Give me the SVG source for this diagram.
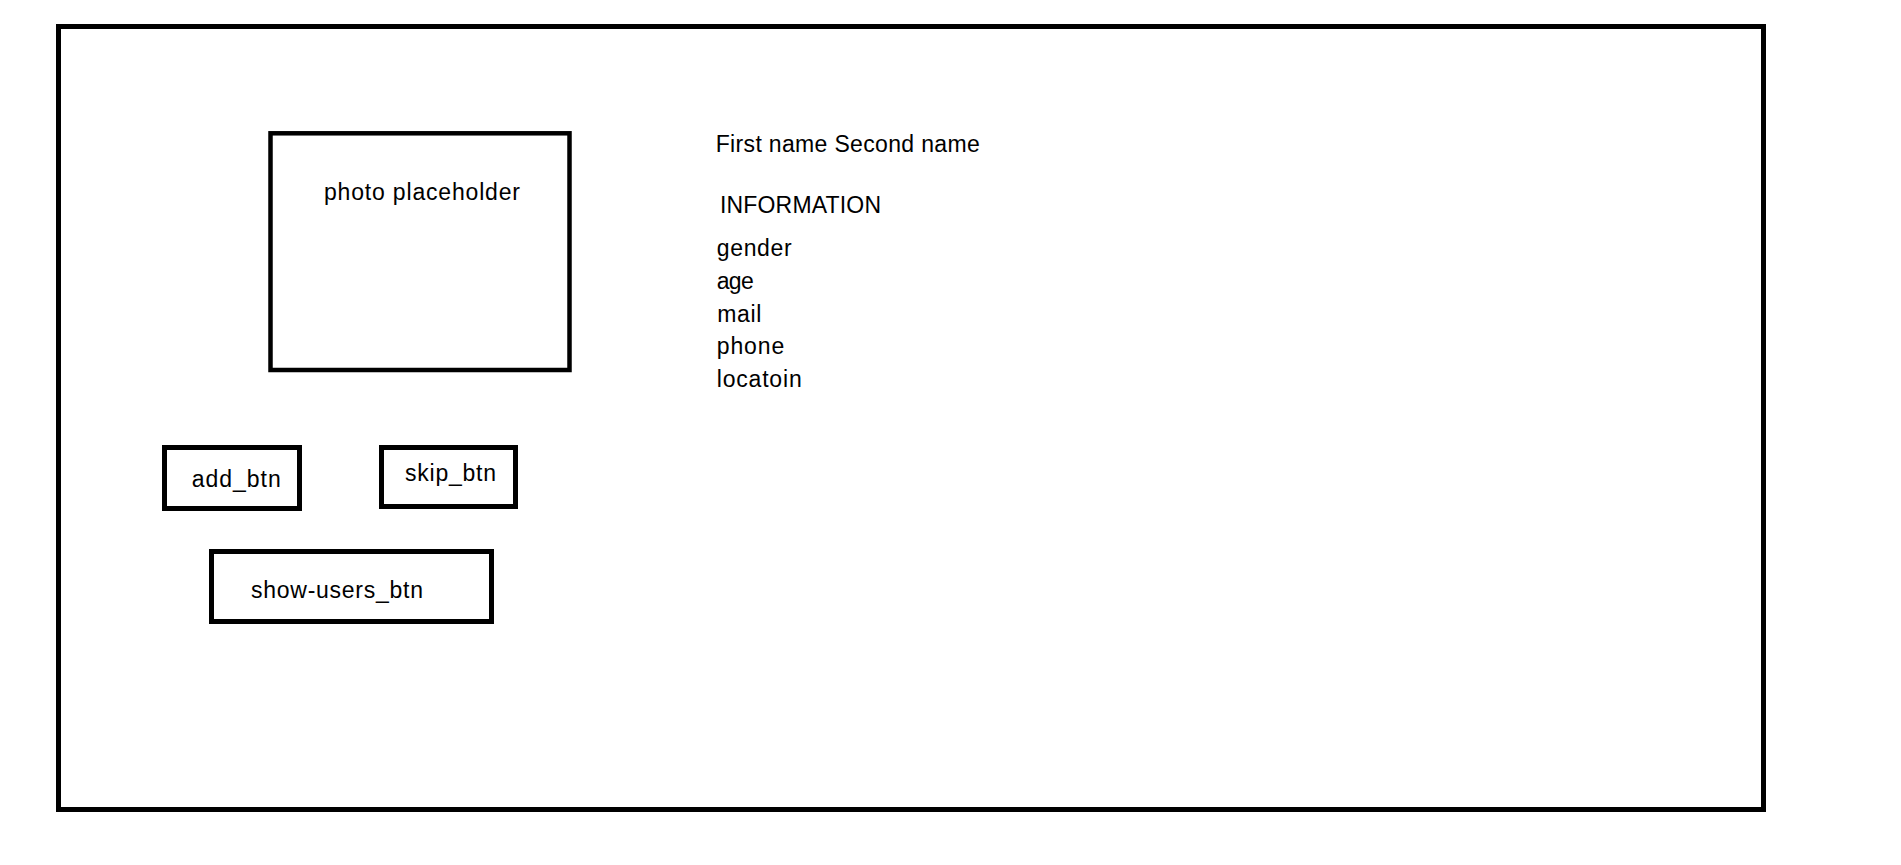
<svg xmlns="http://www.w3.org/2000/svg" width="1901" height="865" viewBox="0 0 1901 865">
<style>
.box{fill:#fff;stroke:#000;stroke-width:5}
.t{font-family:"Liberation Sans",Arial,sans-serif;font-size:23px;fill:#000}
</style>
<rect width="1901" height="865" fill="#fff"/>
<g id="frame"><rect class="box" x="58.5" y="26.5" width="1705" height="783"/></g>
<g id="photo">
<rect class="box" style="stroke-width:4.5" x="270.5" y="133.3" width="299" height="236.7"/>
<text class="t" x="324" y="200" textLength="196">photo placeholder</text>
</g>
<g id="add_btn">
<rect class="box" x="164.5" y="447.5" width="135" height="61"/>
<text class="t" x="191.7" y="487.3" textLength="89">add_btn</text>
</g>
<g id="skip_btn">
<rect class="box" x="381.5" y="447.5" width="134" height="59"/>
<text class="t" x="405" y="481" textLength="91">skip_btn</text>
</g>
<g id="show_users_btn">
<rect class="box" x="211.5" y="551.5" width="280" height="70"/>
<text class="t" x="251" y="597.7" textLength="172">show-users_btn</text>
</g>
<g id="info">
<text class="t" x="715.7" y="151.7" textLength="264">First name Second name</text>
<text class="t" x="720" y="213.3" textLength="161">INFORMATION</text>
<text class="t" x="716.7" y="256" textLength="75">gender</text>
<text class="t" x="716.7" y="288.5" textLength="37">age</text>
<text class="t" x="717.3" y="321.7" textLength="44">mail</text>
<text class="t" x="716.7" y="354.3" textLength="67.6">phone</text>
<text class="t" x="716.7" y="387.3" textLength="85">locatoin</text>
</g>
<g id="connectors"/>
</svg>
